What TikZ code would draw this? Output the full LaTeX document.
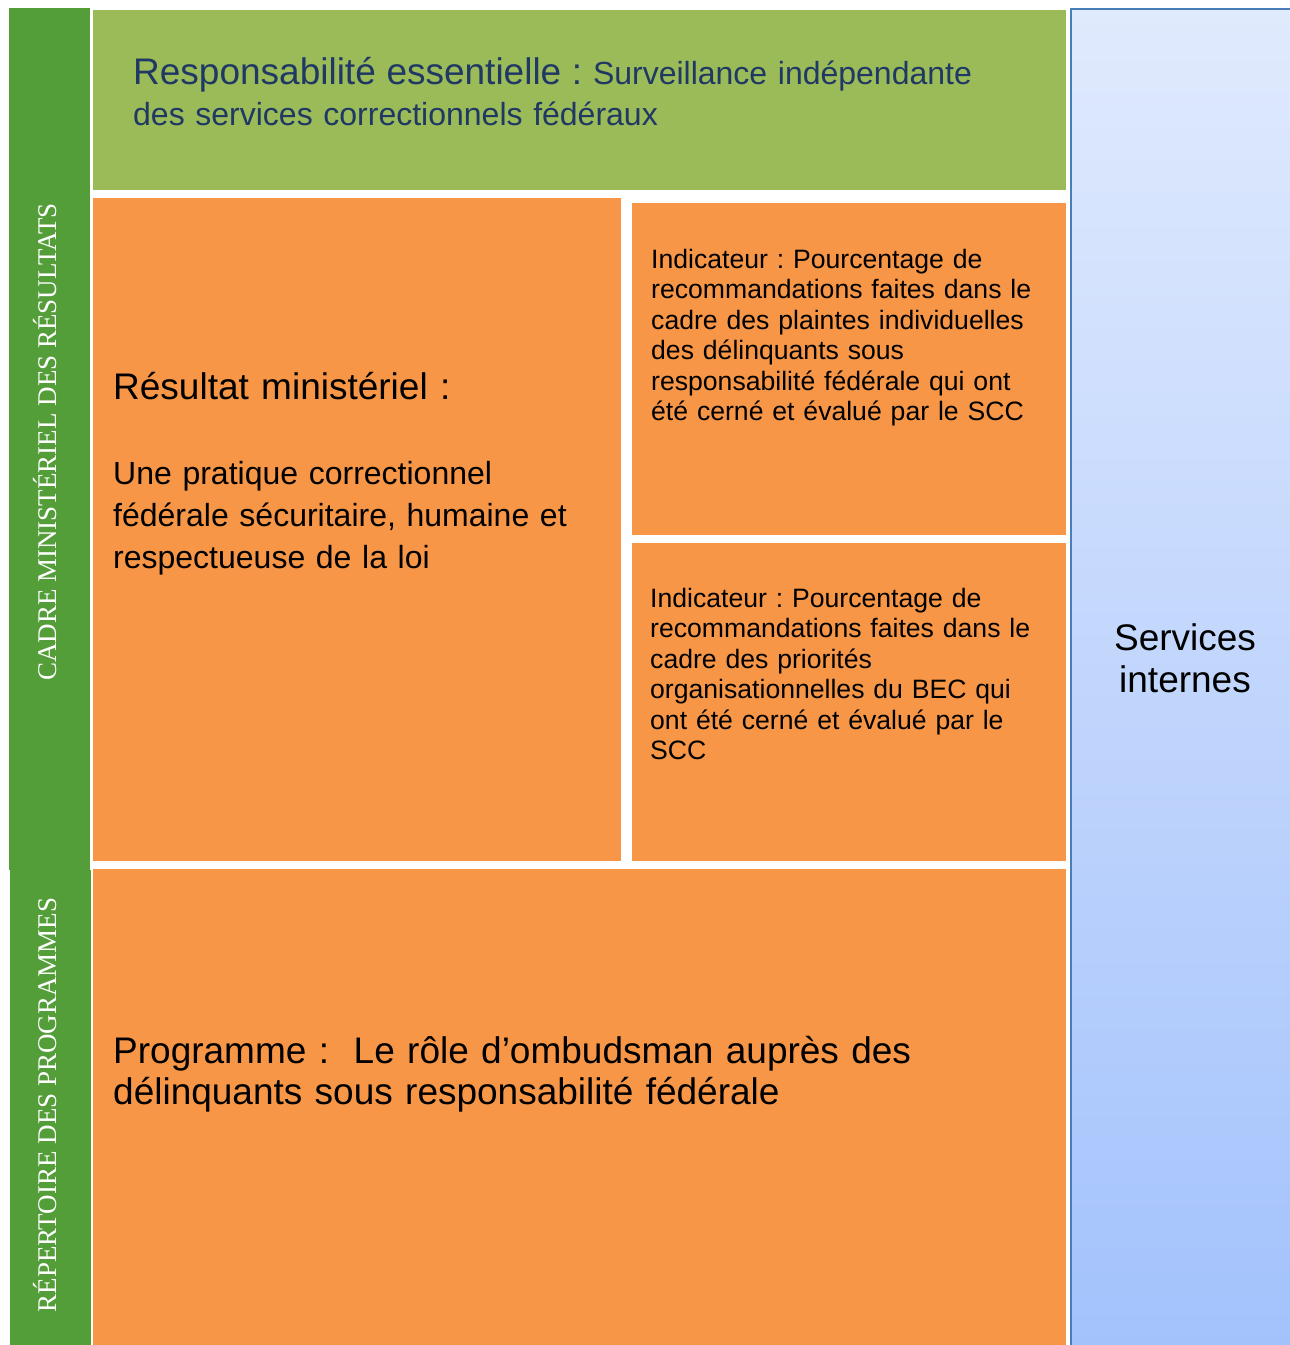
\documentclass[tikz,border=0pt]{standalone}
\usepackage{fontspec}
\setmainfont{Liberation Sans}
\newfontfamily\barserif{Liberation Serif}
\frenchspacing
\definecolor{bargreen}{HTML}{549E39}
\definecolor{lightgreen}{HTML}{9BBB59}
\definecolor{boxorange}{HTML}{F79646}
\definecolor{titleblue}{HTML}{1F3864}
\definecolor{bluetop}{HTML}{E0EAFD}
\definecolor{bluebottom}{HTML}{A3C2FC}
\definecolor{blueedge}{HTML}{4A7EBB}
\tikzset{
  sidebar/.style={fill=bargreen, draw=none},
  orangebox/.style={fill=boxorange, draw=none},
  sidetext/.style={rotate=90, text=white, font=\barserif\fontsize{27}{27}\selectfont, inner sep=0pt},
  bodytext/.style={anchor=base west, inner sep=0pt, align=left, text width=#1},
}
\begin{document}
\begin{tikzpicture}[x=1pt,y=-1pt]
\useasboundingbox[fill=white] (0,0) rectangle (1290,1345);
% side bars
\path[sidebar] (9,8) rectangle (90,870);
\path[sidebar] (10,870) rectangle (91,1345);
\node[sidetext] (cmr) at (45,442) {CADRE MINISTÉRIEL DES RÉSULTATS};
\node[sidetext] (rdp) at (45,1105) {RÉPERTOIRE DES PROGRAMMES};
% top green box
\path[fill=lightgreen] (93,10) rectangle (1066,190);
\node[bodytext=900pt, text=titleblue, font=\fontsize{32}{41}\selectfont] (resp) at (133,84)
  {{\fontsize{37}{41}\selectfont Responsabilité essentielle :} Surveillance indépendante\\des services correctionnels fédéraux};
% orange boxes
\path[orangebox] (93,198) rectangle (621,861);
\path[orangebox] (632,203) rectangle (1066,535);
\path[orangebox] (632,543) rectangle (1066,861);
\path[orangebox] (93,869) rectangle (1066,1345);
\node[bodytext=500pt, font=\fontsize{37}{41}\selectfont] (resmin) at (113,399) {Résultat ministériel :};
\node[bodytext=500pt, font=\fontsize{32}{42}\selectfont] (pratique) at (113,484)
  {Une pratique correctionnel\\fédérale sécuritaire, humaine et\\respectueuse de la loi};
\node[bodytext=420pt, font=\fontsize{26.6}{30.5}\selectfont] (ind1) at (651,268)
  {Indicateur : Pourcentage de\\recommandations faites dans le\\cadre des plaintes individuelles\\des délinquants sous\\responsabilité fédérale qui ont\\été cerné et évalué par le SCC};
\node[bodytext=420pt, font=\fontsize{26.6}{30.5}\selectfont] (ind2) at (650,607)
  {Indicateur : Pourcentage de\\recommandations faites dans le\\cadre des priorités\\organisationnelles du BEC qui\\ont été cerné et évalué par le\\SCC};
\node[bodytext=940pt, font=\fontsize{37}{41}\selectfont] (prog) at (113,1063)
  {Programme :\ \ Le rôle d’ombudsman auprès des\\délinquants sous responsabilité fédérale};
% blue column
\path[top color=bluetop, bottom color=bluebottom, draw=blueedge, line width=2pt] (1071,9) rectangle (1292,1347);
\node[anchor=base, inner sep=0pt, align=center, font=\fontsize{37}{42}\selectfont] (si) at (1185,692)
  {Services\\internes};
\end{tikzpicture}
\end{document}
